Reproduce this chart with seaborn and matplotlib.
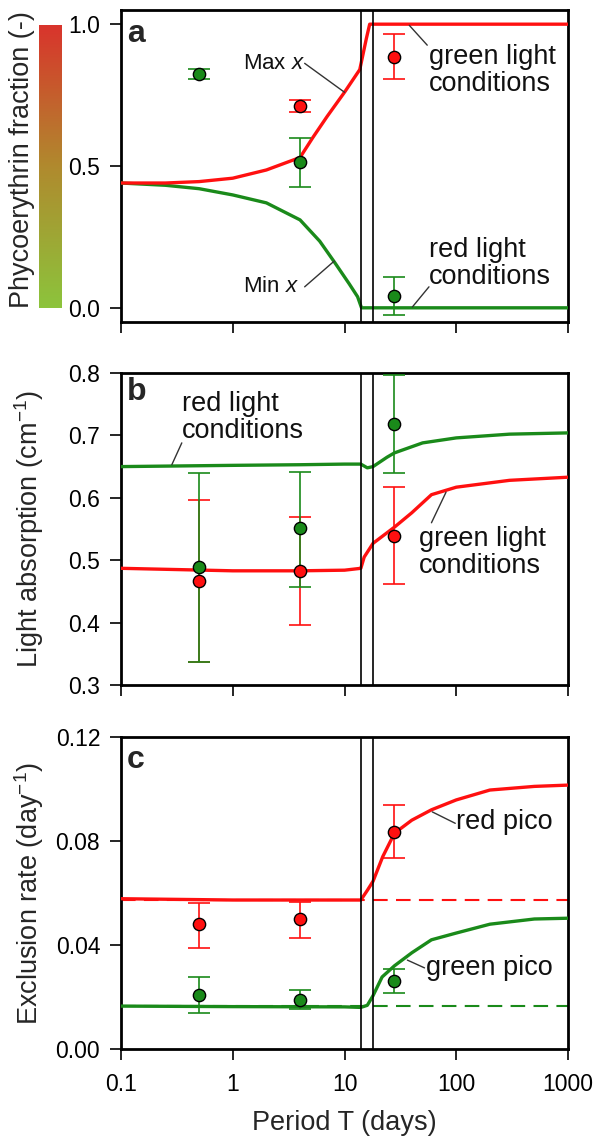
import numpy as np
import pandas as pd
import matplotlib
matplotlib.use("Agg")
import matplotlib.pyplot as plt
import seaborn as sns
from matplotlib.colors import LinearSegmentedColormap

# ---------------- data ----------------
# panel a: phycoerythrin fraction
pe_green_T = [0.5, 4, 28]
pe_green = [0.824, 0.514, 0.042]
pe_green_lo = [0.017, 0.088, 0.067]
pe_green_hi = [0.017, 0.085, 0.067]
pe_red_T = [4, 28]
pe_red = [0.711, 0.884]
pe_red_lo = [0.021, 0.078]
pe_red_hi = [0.021, 0.081]

max_T = [0.1, 0.25, 0.5, 1, 2, 4, 5.2, 7, 10, 13.7, 15.7, 16.8, 1000]
max_x = [0.44, 0.44, 0.445, 0.457, 0.486, 0.53, 0.60, 0.675, 0.76, 0.84, 0.95, 1.0, 1.0]
min_T = [0.1, 0.25, 0.5, 1, 2, 4, 6, 8.1, 11, 13.1, 14.2, 1000]
min_x = [0.44, 0.432, 0.42, 0.398, 0.37, 0.31, 0.235, 0.162, 0.085, 0.039, 0.0, 0.0]

# panel b: light absorption
abs_T = [0.5, 4, 28]
abs_green = [0.489, 0.552, 0.718]
abs_green_lo = [0.152, 0.095, 0.078]
abs_green_hi = [0.151, 0.089, 0.079]
abs_red = [0.467, 0.483, 0.539]
abs_red_lo = [0.130, 0.087, 0.077]
abs_red_hi = [0.130, 0.087, 0.078]

absg_T = [0.1, 1, 4, 10, 14, 16, 18, 24, 28, 50, 100, 300, 1000]
absg = [0.650, 0.652, 0.653, 0.654, 0.654, 0.648, 0.650, 0.665, 0.672, 0.688, 0.696, 0.702, 0.704]
absr_T = [0.1, 1, 4, 10, 14, 15, 18, 28, 40, 60, 100, 300, 1000]
absr = [0.487, 0.483, 0.483, 0.484, 0.487, 0.505, 0.527, 0.553, 0.576, 0.605, 0.617, 0.628, 0.633]

# panel c: exclusion rate
exc_T = [0.5, 4, 28]
exc_red = [0.048, 0.050, 0.0835]
exc_red_lo = [0.009, 0.0073, 0.010]
exc_red_hi = [0.008, 0.0065, 0.0105]
exc_green = [0.0208, 0.019, 0.026]
exc_green_lo = [0.007, 0.0036, 0.0045]
exc_green_hi = [0.0069, 0.0037, 0.0048]

excr_T = [0.1, 1, 10, 14, 16, 18, 22, 28, 40, 60, 100, 200, 500, 1000]
excr = [0.0578, 0.0573, 0.0573, 0.0573, 0.061, 0.0645, 0.074, 0.083, 0.088, 0.092, 0.0958, 0.0996, 0.101, 0.1015]
excg_T = [0.1, 1, 10, 14, 16, 18, 21.7, 28, 40, 60, 100, 200, 500, 1000]
excg = [0.0165, 0.0163, 0.0162, 0.016, 0.0168, 0.0205, 0.0277, 0.032, 0.037, 0.042, 0.0446, 0.048, 0.050, 0.0503]
excr_dash = 0.0573
excg_dash = 0.0165

switch_T = [14, 18]
xticks = [0.1, 1, 10, 100, 1000]
xticklabels = ["0.1", "1", "10", "100", "1000"]

# ---------------- style ----------------
sns.set_theme(style="ticks")
plt.rcParams["font.family"] = ["Liberation Sans", "DejaVu Sans"]
plt.rcParams["mathtext.fontset"] = "custom"
plt.rcParams["mathtext.rm"] = "Liberation Sans"
plt.rcParams["mathtext.it"] = "Liberation Sans:italic"
plt.rcParams["mathtext.bf"] = "Liberation Sans:bold"

RED = "#ff1010"
GREEN = "#1a8a1a"
W, H = 593, 1140
fig = plt.figure(figsize=(W / 100, H / 100), dpi=100)


def fx(px):
    return px / W


def fy(py):
    return 1 - py / H


def make_ax(top, bottom):
    return fig.add_axes([fx(121), fy(bottom), fx(568) - fx(121), (bottom - top) / H])


axa = make_ax(10, 322)
axb = make_ax(373, 685)
axc = make_ax(737, 1049)

TICK_FS = 16.5
LAB_FS = 19.5
ANN_FS = 19.5


def style_ax(ax, ylim, yticks, yfmt, show_xlabels):
    ax.set_xscale("log")
    ax.set_xlim(0.1, 1000)
    ax.set_ylim(*ylim)
    ax.set_xticks(xticks)
    ax.xaxis.set_minor_locator(matplotlib.ticker.NullLocator())
    if show_xlabels:
        ax.set_xticklabels(xticklabels)
    else:
        ax.set_xticklabels([])
    ax.set_yticks(yticks)
    ax.set_yticklabels([yfmt.format(v) for v in yticks])
    for s in ax.spines.values():
        s.set_linewidth(2.0)
        s.set_color("black")
        s.set_visible(True)
    ax.tick_params(axis="both", which="major", direction="out", length=8, width=1.2,
                   labelsize=TICK_FS, colors="black")
    ax.tick_params(axis="y", pad=7)
    ax.tick_params(axis="x", pad=9)
    ax.set_xlabel("")
    ax.set_ylabel("")
    for t in switch_T:
        ax.axvline(t, color="black", lw=1.2, zorder=4)


def points(ax, T, y, lo, hi, color):
    ax.errorbar(T, y, yerr=[lo, hi], fmt="none", ecolor=color, elinewidth=1.2,
                capsize=8, capthick=1.2, zorder=5)
    sns.scatterplot(x=T, y=y, ax=ax, color=color, edgecolor="black", linewidth=1.0,
                    s=78, zorder=6, legend=False)


def ann(ax, text, xy, xytext, ha="left"):
    ax.annotate(text, xy=xy, xytext=xytext, fontsize=ANN_FS, ha=ha, va="center",
                color="#111111", linespacing=1.05,
                arrowprops=dict(arrowstyle="-", color="#333333", lw=1.0,
                                shrinkA=0, shrinkB=0), zorder=7)


def ann_line(ax, p0, p1):
    ax.plot([p0[0], p1[0]], [p0[1], p1[1]], color="#333333", lw=1.0, zorder=7)


# ---------------- panel a ----------------
sns.lineplot(x=min_T, y=min_x, ax=axa, color=GREEN, lw=2.4, zorder=3)
sns.lineplot(x=max_T, y=max_x, ax=axa, color=RED, lw=2.4, zorder=3)
points(axa, pe_red_T, pe_red, pe_red_lo, pe_red_hi, RED)
points(axa, pe_green_T, pe_green, pe_green_lo, pe_green_hi, GREEN)
style_ax(axa, (-0.05, 1.05), [0.0, 0.5, 1.0], "{:.1f}", False)
axa.text(1.23, 0.862, "Max $x$", fontsize=16, va="center", ha="left", color="#111111")
ann_line(axa, (4.4, 0.862), (10, 0.76))
axa.text(1.23, 0.074, "Min $x$", fontsize=16, va="center", ha="left", color="#111111")
ann_line(axa, (4.4, 0.074), (8.1, 0.165))
axa.text(57, 0.838, "green light\nconditions", fontsize=ANN_FS, va="center", ha="left",
         color="#111111", linespacing=1.05)
ann_line(axa, (38, 0.996), (55, 0.926))
axa.text(57, 0.158, "red light\nconditions", fontsize=ANN_FS, va="center", ha="left",
         color="#111111", linespacing=1.05)
ann_line(axa, (40.5, 0.003), (57, 0.074))
axa.text(0.113, 0.965, "a", fontsize=23, fontweight="bold", va="center", ha="left")

# colour bar for phycoerythrin fraction
cax = fig.add_axes([fx(39), fy(308), fx(62) - fx(39), (308 - 25) / H])
cmap = LinearSegmentedColormap.from_list("pe", ["#8cc43c", "#b08a2e", "#d9342c"])
grad = np.linspace(0, 1, 256).reshape(-1, 1)
cax.imshow(grad, aspect="auto", cmap=cmap, origin="lower", extent=[0, 1, 0, 1])
cax.set_xticks([])
cax.set_yticks([])
for s in cax.spines.values():
    s.set_visible(False)
fig.text(fx(22), fy(160), "Phycoerythrin fraction (-)", rotation=90, ha="center",
         va="center", fontsize=LAB_FS)

# ---------------- panel b ----------------
sns.lineplot(x=absg_T, y=absg, ax=axb, color=GREEN, lw=2.4, zorder=3)
sns.lineplot(x=absr_T, y=absr, ax=axb, color=RED, lw=2.4, zorder=3)
points(axb, abs_T, abs_red, abs_red_lo, abs_red_hi, RED)
points(axb, abs_T, abs_green, abs_green_lo, abs_green_hi, GREEN)
style_ax(axb, (0.3, 0.8), [0.3, 0.4, 0.5, 0.6, 0.7, 0.8], "{:.1f}", False)
axb.text(0.35, 0.729, "red light\nconditions", fontsize=ANN_FS, va="center", ha="left",
         color="#111111", linespacing=1.05)
ann_line(axb, (0.285, 0.653), (0.35, 0.688))
axb.text(46.7, 0.513, "green light\nconditions", fontsize=ANN_FS, va="center", ha="left",
         color="#111111", linespacing=1.05)
ann_line(axb, (81, 0.609), (60, 0.56))
axb.text(0.113, 0.77, "b", fontsize=23, fontweight="bold", va="center", ha="left")
fig.text(fx(29), fy(529), "Light absorption (cm$^{-1}$)", rotation=90, ha="center",
         va="center", fontsize=LAB_FS)

# ---------------- panel c ----------------
axc.axhline(excr_dash, color=RED, lw=1.5, ls=(0, (7, 4)), zorder=2)
axc.axhline(excg_dash, color=GREEN, lw=1.5, ls=(0, (7, 4)), zorder=2)
sns.lineplot(x=excg_T, y=excg, ax=axc, color=GREEN, lw=2.4, zorder=3)
sns.lineplot(x=excr_T, y=excr, ax=axc, color=RED, lw=2.4, zorder=3)
points(axc, exc_T, exc_red, exc_red_lo, exc_red_hi, RED)
points(axc, exc_T, exc_green, exc_green_lo, exc_green_hi, GREEN)
style_ax(axc, (0.0, 0.12), [0.0, 0.04, 0.08, 0.12], "{:.2f}", True)
axc.text(100, 0.0873, "red pico", fontsize=ANN_FS, va="center", ha="left", color="#111111")
ann_line(axc, (61, 0.0912), (98, 0.0868))
axc.text(53.7, 0.0311, "green pico", fontsize=ANN_FS, va="center", ha="left", color="#111111")
ann_line(axc, (36.5, 0.0342), (52, 0.0312))
axc.text(0.113, 0.111, "c", fontsize=23, fontweight="bold", va="center", ha="left")
fig.text(fx(29), fy(894), "Exclusion rate (day$^{-1}$)", rotation=90, ha="center",
         va="center", fontsize=LAB_FS)
fig.text(fx(344.5), fy(1123), "Period T (days)", ha="center", va="center", fontsize=LAB_FS)

fig.savefig("out.png", dpi=100)
